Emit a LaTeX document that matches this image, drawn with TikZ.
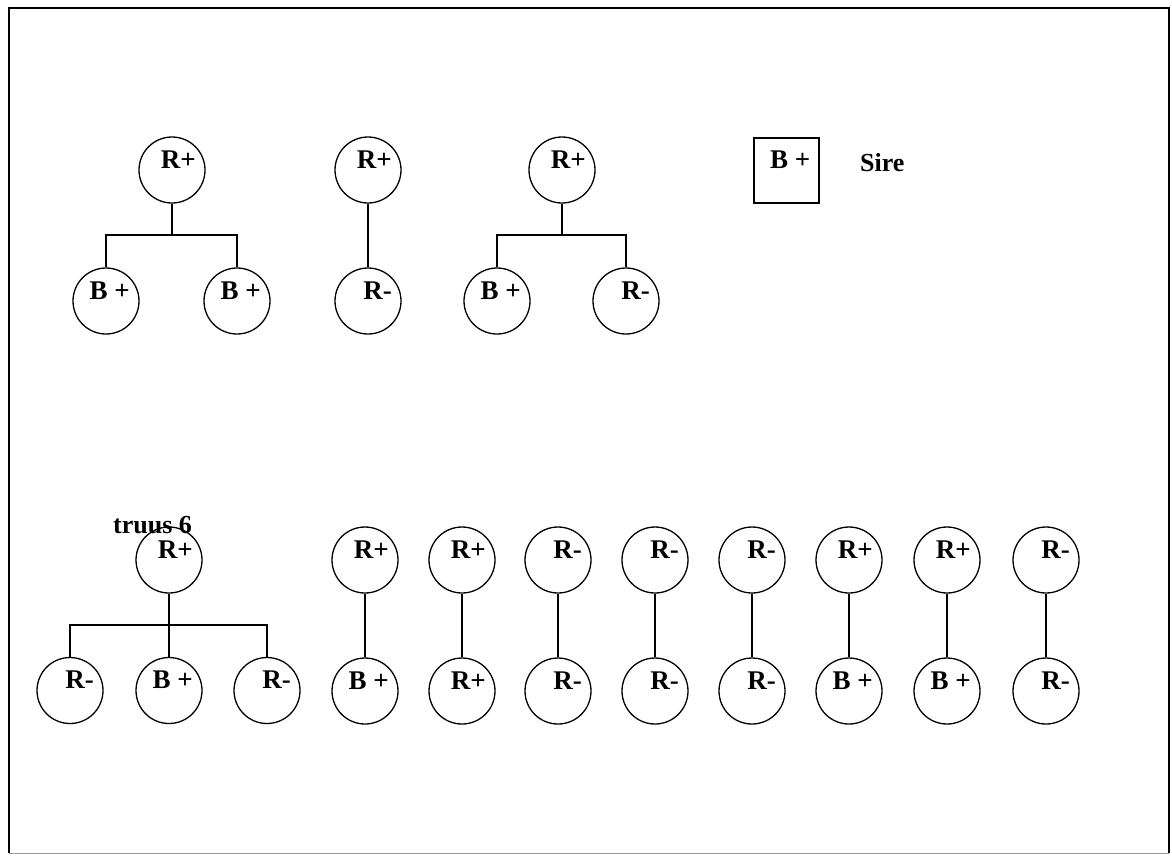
\documentclass[tikz,border=0pt]{standalone}
\usepackage{fontspec}
\setmainfont{Liberation Serif}
\begin{document}
\begin{tikzpicture}[x=1pt,y=-1pt,
  ind/.style={circle,draw,line width=1.3pt,minimum size=66pt,inner sep=0pt},
  sirebox/.style={rectangle,draw,line width=1.3pt,minimum size=65pt,inner sep=0pt},
  lab/.style={anchor=base east,font=\fontsize{27}{27}\selectfont\bfseries,inner sep=0pt,xshift=24pt,yshift=2pt},
  conn/.style={line width=1.3pt}]
\useasboundingbox (0,0) rectangle (1172,855);
\draw[line width=1.6pt] (9,853) -- (9,8) -- (1169,8) -- (1169,853);
\draw[line width=0.8pt,black!40] (9,853) -- (1169,853);
\newcommand\indiv[3]{\node[ind] (#1) at (#2) {}; \node[lab] at (#1.center) {#3};}
% top row
\indiv{a}{172,170}{R+}
\indiv{a1}{106,301}{B +}
\indiv{a2}{237,301}{B +}
\coordinate (ja) at (172,235);
\draw[conn] (a) -- (ja);
\draw[conn] (a1.north) |- (ja) -| (a2.north);
\indiv{b}{368,170}{R+}
\indiv{b1}{368,301}{R-}
\draw[conn] (b) -- (b1);
\indiv{c}{562,170}{R+}
\indiv{c1}{497,301}{B +}
\indiv{c2}{626,301}{R-}
\coordinate (jc) at (562,235);
\draw[conn] (c) -- (jc);
\draw[conn] (c1.north) |- (jc) -| (c2.north);
\node[sirebox] (s) at (786.5,170.5) {};
\node[lab] at (s.center) {B +};
\node[anchor=base west,font=\fontsize{26}{26}\selectfont\bfseries,inner sep=0pt] (sire) at (860,171) {Sire};
% bottom row
\node[anchor=base west,font=\fontsize{26}{26}\selectfont\bfseries,inner sep=0pt] (truus) at (113,533) {truus 6};
\indiv{t}{169,560}{R+}
\indiv{t1}{70,690.5}{R-}
\indiv{t2}{169,690.5}{B +}
\indiv{t3}{267,690.5}{R-}
\coordinate (jt) at (169,625);
\draw[conn] (t) -- (t2);
\draw[conn] (t1.north) |- (jt) -| (t3.north);
\foreach \n/\x/\u/\l in {p1/365/R+/B +, p2/462/R+/R+, p3/558/R-/R-, p4/655/R-/R-, p5/752/R-/R-, p6/849/R+/B +, p7/947/R+/B +, p8/1046/R-/R-}{
  \indiv{\n u}{\x,560}{\u}
  \indiv{\n l}{\x,691}{\l}
  \draw[conn] (\n u) -- (\n l);
}
\end{tikzpicture}
\end{document}
